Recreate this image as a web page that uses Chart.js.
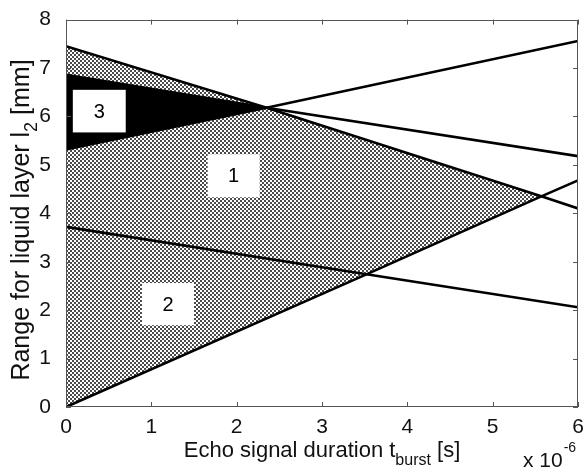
<!DOCTYPE html>
<html>
<head>
<meta charset="utf-8">
<script src="https://cdn.jsdelivr.net/npm/chart.js@4.4.1/dist/chart.umd.min.js"></script>
<style>
html,body{margin:0;padding:0;background:#fff;}
#wrap{width:584px;height:476px;position:relative;}
</style>
</head>
<body>
<div id="wrap"><canvas id="c" width="584" height="476"></canvas></div>
<script>
// ---- data (x in units of 1e-6 s, y in mm) ----
const xTicks = [0, 1, 2, 3, 4, 5, 6];
const yTicks = [0, 1, 2, 3, 4, 5, 6, 7, 8];
const lineA = [[0, 0], [3.52, 2.74], [5.57, 4.35], [6, 4.68]];
const lineB = [[0, 5.32], [2.35, 6.18], [6, 7.56]];
const lineC = [[0, 7.45], [2.35, 6.18], [5.57, 4.35], [6, 4.10]];
const lineD = [[0, 6.86], [2.35, 6.18], [6, 5.18]];
const lineE = [[0, 3.72], [3.52, 2.74], [6, 2.06]];
const hatchUpper = [[0, 7.45], [2.35, 6.18], [5.57, 4.35]];
const hatchLower = [[0, 0], [3.52, 2.74], [5.57, 4.35]];
const blackUpper = [[0, 6.86], [2.35, 6.18]];
const blackLower = [[0, 5.32], [2.35, 6.18]];
const regionNames = ['3', '1', '2'];

// label box placement (data coords)
const regionBoxes = [
  {x0: 0.08, x1: 0.70, y0: 5.67, y1: 6.55},
  {x0: 1.66, x1: 2.27, y0: 4.33, y1: 5.22},
  {x0: 0.89, x1: 1.50, y0: 1.69, y1: 2.56}
];

const FONT = '"Liberation Sans", Arial, Helvetica, sans-serif';
const pts = a => a.map(p => ({x: p[0], y: p[1]}));

// crosshatch pattern
const tile = document.createElement('canvas');
tile.width = 4; tile.height = 4;
const tctx = tile.getContext('2d');
tctx.fillStyle = '#ffffff'; tctx.fillRect(0, 0, 4, 4);
tctx.fillStyle = '#4a4a4a';
tctx.fillRect(0, 0, 2, 2); tctx.fillRect(2, 2, 2, 2);
const hatch = tctx.createPattern(tile, 'repeat');

function lineDs(d) {
  return {data: pts(d), showLine: true, borderColor: '#000', borderWidth: 2.6,
          pointRadius: 0, fill: false, tension: 0};
}
function fillDs(d, fill, bg) {
  return {data: pts(d), showLine: true, borderColor: 'rgba(0,0,0,0)', borderWidth: 0,
          pointRadius: 0, fill: fill, backgroundColor: bg, tension: 0};
}

const datasets = [
  lineDs(lineA), lineDs(lineB), lineDs(lineC), lineDs(lineD), lineDs(lineE),
  fillDs(blackUpper, '+1', '#000'), fillDs(blackLower, false, '#000'),
  fillDs(hatchUpper, '+1', hatch), fillDs(hatchLower, false, hatch)
];

const decor = {
  id: 'decor',
  afterDatasetsDraw(chart) {
    const {ctx, scales: {x, y}} = chart;
    ctx.save();
    regionBoxes.forEach((b, i) => {
      const px0 = x.getPixelForValue(b.x0), px1 = x.getPixelForValue(b.x1);
      const py0 = y.getPixelForValue(b.y1), py1 = y.getPixelForValue(b.y0);
      ctx.fillStyle = '#fff';
      ctx.fillRect(px0, py0, px1 - px0, py1 - py0);
      ctx.fillStyle = '#000';
      ctx.font = '20px ' + FONT;
      ctx.textAlign = 'center'; ctx.textBaseline = 'middle';
      ctx.fillText(regionNames[i], (px0 + px1) / 2, (py0 + py1) / 2 + 1);
    });
    ctx.restore();
  },
  afterDraw(chart) {
    const {ctx, chartArea: ca, scales: {x, y}} = chart;
    ctx.save();
    ctx.strokeStyle = '#555'; ctx.lineWidth = 1;
    ctx.strokeRect(Math.round(ca.left) + 0.5, Math.round(ca.top) + 0.5,
                   Math.round(ca.right - ca.left) - 1, Math.round(ca.bottom - ca.top) - 1);
    ctx.beginPath();
    xTicks.forEach(v => {
      const px = Math.round(x.getPixelForValue(v)) + 0.5;
      ctx.moveTo(px, ca.bottom); ctx.lineTo(px, ca.bottom - 5);
      ctx.moveTo(px, ca.top); ctx.lineTo(px, ca.top + 5);
    });
    yTicks.forEach(v => {
      const py = Math.round(y.getPixelForValue(v)) + 0.5;
      ctx.moveTo(ca.left, py); ctx.lineTo(ca.left + 5, py);
      ctx.moveTo(ca.right, py); ctx.lineTo(ca.right - 5, py);
    });
    ctx.stroke();

    ctx.fillStyle = '#111';
    ctx.textBaseline = 'alphabetic';
    const big = '22px ' + FONT, small = '16px ' + FONT;
    const parts = [['Echo signal duration t', big, 0], ['burst', small, 8], [' [s]', big, 0]];
    let total = 0;
    parts.forEach(p => { ctx.font = p[1]; total += ctx.measureText(p[0]).width; });
    let cx = (ca.left + ca.right) / 2 - total / 2;
    ctx.textAlign = 'left';
    parts.forEach(p => { ctx.font = p[1]; ctx.fillText(p[0], cx, 457 + p[2]); cx += ctx.measureText(p[0]).width; });
    ctx.font = '21px ' + FONT;
    ctx.fillText('x 10', 523, 467);
    const w10 = ctx.measureText('x 10').width;
    ctx.font = '14px ' + FONT;
    ctx.fillText('-6', 523 + w10 + 1, 452);

    const ybig = '25px ' + FONT, ysmall = '18px ' + FONT;
    const yparts = [['Range for liquid layer l', ybig, 0], ['2', ysmall, 8], [' [mm]', ybig, 0]];
    let ytot = 0;
    yparts.forEach(p => { ctx.font = p[1]; ytot += ctx.measureText(p[0]).width; });
    ctx.translate(29, 220);
    ctx.rotate(-Math.PI / 2);
    let cy = -ytot / 2;
    yparts.forEach(p => { ctx.font = p[1]; ctx.fillText(p[0], cy, p[2]); cy += ctx.measureText(p[0]).width; });
    ctx.restore();
  }
};

new Chart(document.getElementById('c'), {
  type: 'scatter',
  data: {datasets},
  options: {
    responsive: false,
    animation: false,
    layout: {padding: {top: 10, right: 6, left: 0, bottom: 0}},
    plugins: {legend: {display: false}, tooltip: {enabled: false}},
    scales: {
      x: {
        type: 'linear', min: 0, max: 6,
        grid: {display: false}, border: {display: false},
        afterBuildTicks: s => { s.ticks = xTicks.map(v => ({value: v})); },
        afterFit: s => { s.height = 69; },
        ticks: {padding: 0, color: '#111', font: {size: 21, family: FONT}, maxRotation: 0}
      },
      y: {
        type: 'linear', min: 0, max: 8,
        grid: {display: false}, border: {display: false},
        afterBuildTicks: s => { s.ticks = yTicks.map(v => ({value: v})); },
        afterFit: s => { s.width = 66; },
        ticks: {padding: 7, color: '#111', font: {size: 21, family: FONT}}
      }
    }
  },
  plugins: [decor]
});
</script>
</body>
</html>
